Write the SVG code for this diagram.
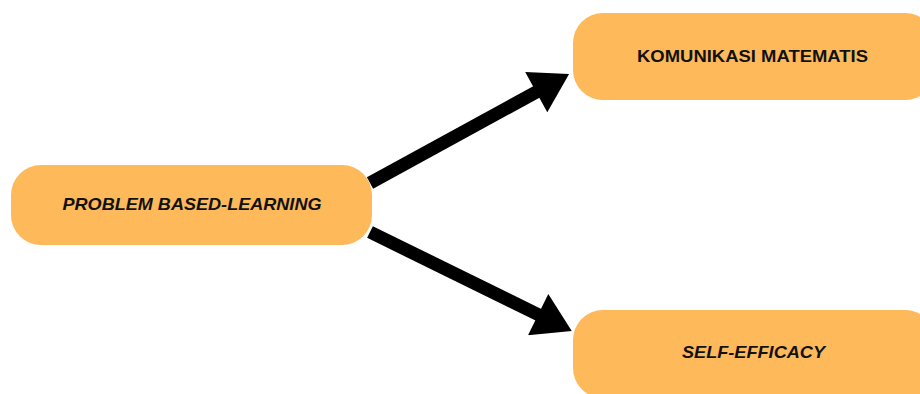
<svg xmlns="http://www.w3.org/2000/svg" width="920" height="394" viewBox="0 0 920 394">
<style>
.box{fill:#FDB95A}
.t{font-family:"Liberation Sans",Arial,sans-serif;font-weight:bold;font-size:16.5px;fill:#111;text-anchor:middle}
.i{font-style:italic}
.conn{stroke:#000;stroke-width:13;fill:none}
</style>
<defs>
<marker id="ah" markerUnits="userSpaceOnUse" markerWidth="42" markerHeight="46" viewBox="0 0 35 43" refX="4" refY="21.5" orient="auto">
<path d="M0,0 L35,21.5 L0,43 z" fill="#000"/>
</marker>
</defs>
<rect width="920" height="394" fill="#fff"/>
<g id="connectors">
<line class="conn" x1="370" y1="183" x2="540" y2="90" marker-end="url(#ah)"/>
<line class="conn" x1="370" y1="232" x2="542" y2="316.5" marker-end="url(#ah)"/>
</g>
<g id="pbl">
<rect class="box" x="11" y="165" width="361" height="80" rx="30"/>
<text class="t i" x="192" y="210" textLength="259" lengthAdjust="spacingAndGlyphs">PROBLEM BASED-LEARNING</text>
</g>
<g id="komunikasi">
<rect class="box" x="573" y="13" width="362" height="87" rx="30"/>
<text class="t" x="752.5" y="62" textLength="231" lengthAdjust="spacingAndGlyphs">KOMUNIKASI MATEMATIS</text>
</g>
<g id="selfefficacy">
<rect class="box" x="573" y="310" width="362" height="88" rx="30"/>
<text class="t i" x="753.5" y="358" textLength="143" lengthAdjust="spacingAndGlyphs">SELF-EFFICACY</text>
</g>
</svg>
